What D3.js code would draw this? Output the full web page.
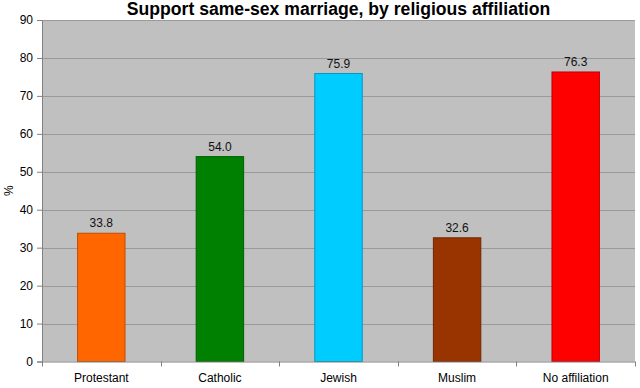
<!DOCTYPE html>
<html><head><meta charset="utf-8">
<script src="https://cdn.jsdelivr.net/npm/d3@7"></script>
<style>body{margin:0;background:#fff}svg{display:block}text{font-family:"Liberation Sans",Arial,sans-serif}</style>
</head><body><svg id="c" width="640" height="388"></svg>
<script>
const categories = ["Protestant","Catholic","Jewish","Muslim","No affiliation"];
const values = [33.8, 54.0, 75.9, 32.6, 76.3];
const colors = ["#FF6600","#008000","#00CCFF","#993300","#FF0000"];
const yTicks = [0,10,20,30,40,50,60,70,80,90];

const svg = d3.select("#c");
const L=42, R=635, T=20, B=361.5;
const x = d3.scaleBand().domain(categories).range([L,R]).paddingInner(0.6).paddingOuter(0.3);
const y = d3.scaleLinear().domain([0,90]).range([B,T]);

svg.append("rect").attr("x",L).attr("y",T).attr("width",R-L).attr("height",B-T).attr("fill","#C0C0C0");
svg.append("g").selectAll("line").data(yTicks.slice(1)).join("line")
  .attr("x1",L).attr("x2",R).attr("y1",d=>Math.round(y(d))+0.5).attr("y2",d=>Math.round(y(d))+0.5)
  .attr("stroke","#9a9a9a").attr("stroke-width",1);

svg.append("g").selectAll("rect").data(values).join("rect")
  .attr("x",(d,i)=>x(categories[i])).attr("width",x.bandwidth())
  .attr("y",d=>y(d)).attr("height",d=>B-y(d))
  .attr("fill",(d,i)=>colors[i]).attr("stroke",(d,i)=>d3.color(colors[i]).darker(0.8)).attr("stroke-width",1);

svg.append("g").selectAll("text").data(values).join("text")
  .attr("x",(d,i)=>x(categories[i])+x.bandwidth()/2).attr("y",d=>y(d)-6)
  .attr("text-anchor","middle").attr("font-size",12).attr("fill","#111")
  .text(d=>d.toFixed(1));

const ya = svg.append("g").attr("transform",`translate(${L},0)`)
  .call(d3.axisLeft(y).tickValues(yTicks).tickSize(5).tickPadding(4));
ya.selectAll("text").attr("font-size",12).attr("fill","#000").style("font-family","Liberation Sans, Arial, sans-serif");
ya.selectAll("line,path").attr("stroke","#808080");

const xa = svg.append("g").attr("transform",`translate(0,${B})`)
  .call(d3.axisBottom(x).tickSize(0).tickPadding(12));
xa.selectAll("text").attr("font-size",12).attr("fill","#000").style("font-family","Liberation Sans, Arial, sans-serif");
xa.select("path").attr("stroke","#808080").attr("d",`M${L},0.5H${R}`);
const step = x.step();
const bounds = d3.range(categories.length+1).map(i=>L+i*step);
svg.append("g").selectAll("line").data(bounds).join("line")
  .attr("x1",d=>Math.round(d)+0.5).attr("x2",d=>Math.round(d)+0.5).attr("y1",B).attr("y2",B+5).attr("stroke","#808080");

svg.append("text").attr("x",(L+R)/2).attr("y",15).attr("text-anchor","middle")
  .attr("font-size",17.6).attr("font-weight","bold").text("Support same-sex marriage, by religious affiliation");
svg.append("text").attr("transform",`translate(13,${(T+B)/2}) rotate(-90)`).attr("text-anchor","middle")
  .attr("font-size",12).text("%");
</script></body></html>
